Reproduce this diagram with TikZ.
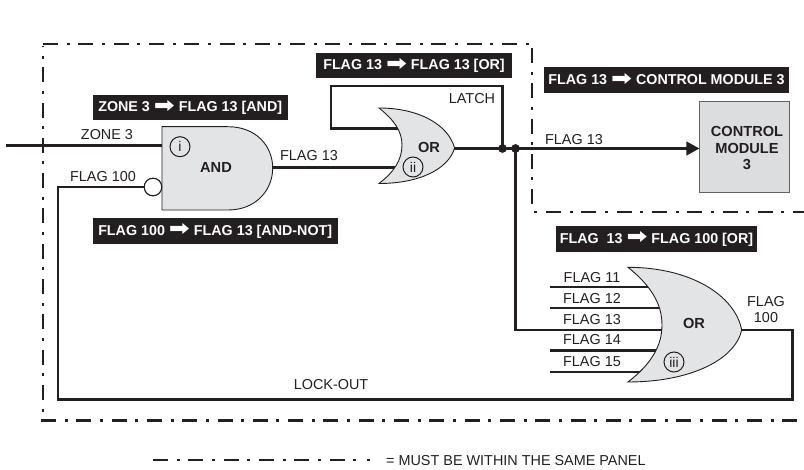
\documentclass[tikz,border=0pt]{standalone}
\usepackage{fontspec}
\setmainfont{Liberation Sans}
\newfontfamily\arrowfont{DejaVu Sans}
\definecolor{ink}{HTML}{231F20}
\definecolor{gatefill}{HTML}{E3E4E5}
\definecolor{modfill}{HTML}{DCDDDE}
\newcommand{\flow}{\raisebox{-0.06em}{\scalebox{1.75}[1.45]{\arrowfont\symbol{"27A1}}}}
\tikzset{
  wire/.style={draw=ink,line width=2.9pt},
  gate/.style={draw=ink,fill=gatefill,line width=0.9pt},
  panel/.style={draw=ink,line width=2.7pt,dash pattern=on 15pt off 8.6pt on 3pt off 8.7pt},
  lbl/.style={text=ink,font=\fontsize{14.4}{16}\selectfont,inner sep=0pt},
  gatetxt/.style={text=ink,font=\fontsize{14.6}{16.5}\selectfont\bfseries,inner sep=0pt,align=center},
  tag/.style={fill=ink,text=white,font=\fontsize{14.3}{16}\selectfont\bfseries,inner sep=0pt,minimum height=25.5pt},
  idx/.style={circle,draw=ink,line width=1pt,minimum size=20pt,inner sep=0pt,text=ink,font=\fontsize{14}{16}\selectfont},
  dotj/.style={circle,fill=ink,minimum size=8.5pt,inner sep=0pt},
  arrowtip/.style={fill=ink,draw=none}
}
\begin{document}
\begin{tikzpicture}[x=1pt,y=-1pt]
\useasboundingbox (0,0) rectangle (804,470);
% panels
\coordinate (pTL) at (43,46); \coordinate (pBL) at (43,416);
\coordinate (pT0) at (43,44); \coordinate (pT1) at (530,44);
\coordinate (pR0) at (532,48); \coordinate (pR1) at (532,206);
\coordinate (pH0) at (532,212); \coordinate (pH1) at (804,212);
\coordinate (pB0) at (41,420.5); \coordinate (pB1) at (804,420.5);
\coordinate (lg0) at (153,460); \coordinate (lg1) at (357,460);
\coordinate (lg2) at (366.5,460); \coordinate (lg3) at (369.5,460);
\draw[panel,dash phase=14pt] (pTL) -- (pBL);
\draw[panel] (pT0) -- (pT1);
\draw[panel] (pR0) -- (pR1);
\draw[panel,dash phase=-14pt] (pH0) -- (pH1);
\draw[panel] (pB0) -- (pB1);
\draw[panel] (lg0) -- (lg1);
\draw[draw=ink,line width=2.7pt] (lg2) -- (lg3);
\node[anchor=west,text=ink,font=\fontsize{14.4}{16}\selectfont,inner sep=0pt] (legend) at (386,460.5) {= MUST BE WITHIN THE SAME PANEL};
% wire ports
\coordinate (zoneIn) at (6,145.3); \coordinate (andZone) at (165,145.3);
\coordinate (andOut) at (270,167.3); \coordinate (orA) at (410,167.3);
\coordinate (orOut) at (450,148.5);
\coordinate (latchIn) at (400,128.3);
\coordinate (latchL) at (331,128.3); \coordinate (latchLT) at (331,86); \coordinate (latchRT) at (502.5,86);
\node[dotj] (j1) at (502.5,148.5) {};
\node[dotj] (j2) at (515.5,148.5) {};
\node[draw=ink!70,fill=modfill,line width=1pt,minimum width=90pt,minimum height=91pt,inner sep=0pt] (cm) at (744.8,147.3) {};
\node[circle,draw=ink,fill=white,line width=1pt,minimum size=17.5pt,inner sep=0pt] (neg) at (153,187) {};
\coordinate (cmIn) at (cm.west |- j2);
\coordinate (f100L) at (58,187); \coordinate (f100B) at (58,399.3); \coordinate (f100R) at (792.7,399.3); \coordinate (f100U) at (792.7,330); \coordinate (bigOut) at (738,330);
\coordinate (downB) at (515.5,330); \coordinate (big13) at (668,330);
\coordinate (i11) at (550,287); \coordinate (e11) at (660,287);
\coordinate (i12) at (550,308); \coordinate (e12) at (665,308);
\coordinate (i14) at (550,350.7); \coordinate (e14) at (665,350.7);
\coordinate (i15) at (550,372); \coordinate (e15) at (660,372);
% wires
\draw[wire] (zoneIn) -- (andZone);
\draw[wire] (andOut) -- (orA);
\draw[wire,line join=miter] (latchIn) -- (latchL) -- (latchLT) -- (latchRT) -- (j1.center);
\draw[wire] (orOut) -- (j1.center) -- (j2.center);
\draw[wire] (j2.center) -- ([xshift=-6pt]cmIn);
\draw[wire] (j2.center) -- (downB) -- (big13);
\draw[wire] (neg) -- (f100L) -- (f100B) -- (f100R) -- (f100U) -- (bigOut);
\draw[wire] (i11) -- (e11); \draw[wire] (i12) -- (e12);
\draw[wire] (i14) -- (e14); \draw[wire] (i15) -- (e15);
\fill[arrowtip] (cmIn) -- ++(-13,-7.2) -- ++(0,14.4) -- cycle;
\node[dotj] at (j1) {}; \node[dotj] at (j2) {};
% gates
\path[gate] (162,126.7) -- (228,126.7) .. controls (256,126.7) and (272.7,146) .. (272.7,168)
  .. controls (272.7,190) and (256,210) .. (228,210) -- (162,210) -- cycle;
\path[gate] (379,108) .. controls (418,108) and (448,124) .. (454.6,148)
  .. controls (448,170) and (418,183.5) .. (379,183.5)
  .. controls (394,172) and (402,160) .. (402,145)
  .. controls (402,131) and (394,120) .. (379,108) -- cycle;
\path[gate] (628,267.3) .. controls (690,267.3) and (735,295) .. (741.7,330)
  .. controls (735,360) and (690,382) .. (628,382)
  .. controls (650,365) and (662,347) .. (662,325)
  .. controls (662,303) and (650,285) .. (628,267.3) -- cycle;
\node[circle,draw=ink,fill=white,line width=1pt,minimum size=17.5pt,inner sep=0pt] at (neg) {};
% gate text
\node[gatetxt] (tAnd) at (216,167) {AND};
\node[gatetxt] (tOr1) at (429,147) {OR};
\node[gatetxt] (tOr2) at (694,323) {OR};
\node[gatetxt] (tCm) at (747,148) {CONTROL\\MODULE\\3};
\node[idx] (ni) at (180,146.7) {i};
\node[idx] (nii) at (413,167) {ii};
\node[idx] (niii) at (674,362) {iii};
% labels
\node[lbl] (l1) at (107,135) {ZONE 3};
\node[lbl] (l2) at (103,177) {FLAG 100};
\node[lbl] (l3) at (309,156) {FLAG 13};
\node[lbl] (l4) at (472,99) {LATCH};
\node[lbl] (l5) at (574,140) {FLAG 13};
\node[lbl] (l6) at (592,278) {FLAG 11};
\node[lbl] (l7) at (592,299) {FLAG 12};
\node[lbl] (l8) at (592,320) {FLAG 13};
\node[lbl] (l9) at (592,340) {FLAG 14};
\node[lbl] (l10) at (592,362) {FLAG 15};
\node[lbl,align=center,font=\fontsize{14.4}{16}\selectfont] (l11) at (766,310) {FLAG\\100};
\node[lbl] (l12) at (331,385) {LOCK-OUT};
% tags
\node[tag,minimum width=196pt] (t1) at (414,65.5) {FLAG 13 \flow{} FLAG 13 [OR]};
\node[tag,minimum width=195pt] (t2) at (190.2,107.5) {ZONE 3 \flow{} FLAG 13 [AND]};
\node[tag,minimum width=245pt] (t3) at (215.2,231) {FLAG 100 \flow{} FLAG 13 [AND-NOT]};
\node[tag,minimum width=245pt] (t4) at (666.5,79.8) {FLAG 13 \flow{} CONTROL MODULE 3};
\node[tag,minimum width=201pt] (t5) at (656.5,239) {FLAG\ \ 13 \flow{} FLAG 100 [OR]};
\end{tikzpicture}
\end{document}
